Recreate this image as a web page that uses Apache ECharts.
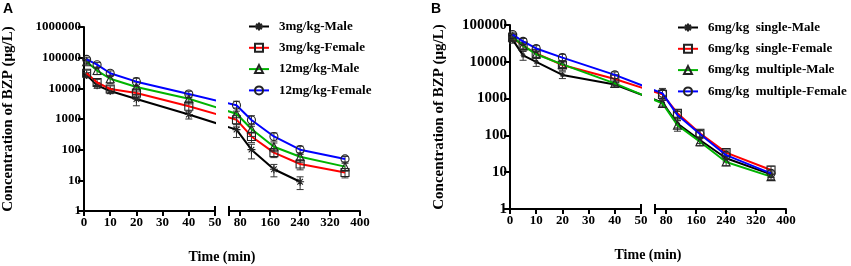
<!DOCTYPE html>
<html>
<head>
<meta charset="utf-8">
<script src="https://cdn.jsdelivr.net/npm/echarts@6/dist/echarts.min.js"></script>
<style>
html, body { margin: 0; padding: 0; background: #fff; }
#main { width: 851px; height: 266px; }
</style>
</head>
<body>
<div id="main"></div>
<script>
// sampling times (min), same for both panels
const times = [1, 5, 10, 20, 40, 70, 110, 170, 240, 360];
const xTicksSeg2 = [80, 160, 240, 320, 400];

// panel A: means and SD (ug/L)
const namesA = ['3mg/kg-Male', '3mg/kg-Female', '12mg/kg-Male', '12mg/kg-Female'];
const meanA = [
    [27000, 12500, 8200, 4500, 1400, 450, 100, 23, 9, null],
    [31000, 15500, 9500, 7000, 2600, 950, 270, 80, 34, 18],
    [74000, 38000, 20500, 11000, 4600, 1480, 470, 125, 59, 28],
    [88000, 59000, 31000, 16500, 6500, 2800, 930, 270, 100, 50]
];
const sdA = [
    [5000, 2500, 1500, 1800, 400, 200, 50, 10, 4, null],
    [8000, 4000, 2500, 2500, 1200, 400, 100, 25, 12, 6],
    [15000, 10000, 6000, 5000, 1500, 800, 200, 40, 20, 8],
    [15000, 10000, 6000, 5000, 1500, 1000, 350, 80, 30, 10]
];

// panel B
const namesB = ['6mg/kg  single-Male', '6mg/kg  single-Female', '6mg/kg  multiple-Male', '6mg/kg  multiple-Female'];
const meanB = [
    [40000, 15000, 10000, 4400, 2400, 780, 210, 75, 24, 8.7],
    [45000, 27000, 17000, 8200, 3400, 1300, 400, 114, 34, 11.5],
    [48000, 27500, 16000, 8500, 2600, 740, 190, 67, 19, 7.6],
    [55000, 36000, 23000, 13000, 4400, 1390, 357, 109, 29, 9.3]
];
const sdB = [
    [8000, 4000, 2500, 900, 400, 150, 50, 15, 5, 1.5],
    [9000, 6000, 4000, 2500, 1000, 400, 100, 25, 6, 3],
    [7000, 5000, 3500, 1500, 400, 150, 60, 15, 4, 1.2],
    [9000, 7000, 4500, 3000, 900, 500, 100, 25, 6, 2]
];

const colors = ['#000000', '#ff0000', '#00b400', '#0000ff'];
const star = 'path://M5,0L5,10M0,5L10,5M1.5,1.5L8.5,8.5M8.5,1.5L1.5,8.5';
const symbols = [star, 'rect', 'triangle', 'circle'];
const symSizeA = [8, 8, 8, 8];
const symSizeB = [5, 8, 8, 8];

const serif = 'Liberation Serif';
const lblStyle = {fontFamily: serif, fontWeight: 'bold', fontSize: 13, color: '#000'};

let chart = echarts.init(document.getElementById('main'));

// x ranges of the two segments of the broken axis
const segs = [[0, 50], [50, 400]];
// last point of segment 1 and first of segment 2
const lastIn1 = 4, firstIn2 = 5;

let grids = [
    {left: 84, top: 27, width: 131, height: 184},
    {left: 229, top: 27, width: 131, height: 184},
    {left: 510, top: 25, width: 131, height: 184},
    {left: 655, top: 25, width: 131, height: 184}
];

let xAxes = [];
let yAxes = [];
grids.forEach((g, i) => {
    let s = i % 2;
    let ax = {
        type: 'value', gridIndex: i, min: segs[s][0], max: segs[s][1],
        axisLine: {lineStyle: {color: '#000', width: 2}},
        axisTick: {length: 5, lineStyle: {color: '#000', width: 2}},
        axisLabel: Object.assign({margin: 5}, lblStyle),
        splitLine: {show: false}
    };
    if (s === 0) {
        ax.interval = 10;
    } else {
        ax.axisTick.customValues = xTicksSeg2;
        ax.axisLabel.customValues = xTicksSeg2;
    }
    xAxes.push(ax);

    let panelB = i >= 2;
    yAxes.push({
        type: 'log', gridIndex: i, min: 1, max: panelB ? 100000 : 1000000,
        show: s === 0,
        name: 'Concentration of BZP (μg/L)',
        nameLocation: 'middle',
        nameGap: panelB ? 63 : 68,
        nameTextStyle: {fontFamily: serif, fontWeight: 'bold', fontSize: 15, color: '#000'},
        axisLine: {show: true, lineStyle: {color: '#000', width: 2}},
        axisTick: {length: 6, lineStyle: {color: '#000', width: 2}},
        axisLabel: Object.assign({}, lblStyle, {
            margin: 3, fontSize: panelB ? 15 : 13,
            formatter: v => String(Math.round(v))
        }),
        splitLine: {show: false}
    });
});

let series = [];
let lineInfo = [];
function addPanel(names, means, sds, gridBase, symSize) {
    for (let s = 0; s < 2; s++) {
        let gi = gridBase + s;
        names.forEach((nm, k) => {
            lineInfo.push({idx: series.length, means: means[k], grid: gi, seg: s, base: gridBase});
            series.push({
                type: 'line', name: nm, xAxisIndex: gi, yAxisIndex: gi,
                data: times.map((t, j) => [t, means[k][j]]),
                clip: true,
                symbol: symbols[k], symbolSize: symSize[k],
                showAllSymbol: true,
                lineStyle: {color: colors[k], width: 2},
                itemStyle: {color: 'rgba(0,0,0,0)', borderColor: '#222', borderWidth: 1.1},
                z: 3 + k
            });
        });
        names.forEach((nm, k) => {
            let bars = [];
            times.forEach((t, j) => {
                if (t < segs[s][0] || t > segs[s][1] || means[k][j] == null) return;
                let m = means[k][j], d = sds[k][j];
                bars.push([t, m - d, m + d]);
            });
            series.push({
                type: 'custom', name: nm + ' SD', xAxisIndex: gi, yAxisIndex: gi,
                data: bars, z: 3 + k,
                encode: {x: 0, y: [1, 2]},
                renderItem: (params, api) => {
                    let top = api.coord([api.value(0), api.value(2)]);
                    let bot = api.coord([api.value(0), api.value(1)]);
                    let w = 3.5;
                    let st = {stroke: '#333', lineWidth: 1};
                    return {type: 'group', children: [
                        {type: 'line', shape: {x1: top[0], y1: top[1], x2: bot[0], y2: bot[1]}, style: st},
                        {type: 'line', shape: {x1: top[0] - w, y1: top[1], x2: top[0] + w, y2: top[1]}, style: st},
                        {type: 'line', shape: {x1: bot[0] - w, y1: bot[1], x2: bot[0] + w, y2: bot[1]}, style: st}
                    ]};
                }
            });
        });
    }
}
addPanel(namesA, meanA, sdA, 0, symSizeA);
addPanel(namesB, meanB, sdB, 2, symSizeB);

const legendText = Object.assign({padding: [0, 0, 0, 5]}, lblStyle);

const option = {
    animation: false,
    backgroundColor: '#fff',
    grid: grids,
    xAxis: xAxes,
    yAxis: yAxes,
    legend: [
        {orient: 'vertical', left: 248, top: 20, padding: 0, itemWidth: 20, itemHeight: 10, itemGap: 8.3,
         data: namesA, textStyle: legendText},
        {orient: 'vertical', left: 677, top: 21, padding: 0, itemWidth: 20, itemHeight: 10, itemGap: 8.3,
         data: namesB, textStyle: legendText}
    ],
    series: series
};
chart.setOption(option);

// the line across the axis break is straight on screen, from the last point
// of segment 1 to the first point of segment 2; map each end into the other
// segment's axis so every part gets clipped by its own grid
lineInfo.forEach(info => {
    let g1 = info.base, g2 = info.base + 1;
    let d = times.map((t, j) => [t, info.means[j]]);
    if (info.seg === 0) {
        let px = chart.convertToPixel({xAxisIndex: g2}, times[firstIn2]);
        d = d.slice(0, lastIn1 + 1);
        d.push([chart.convertFromPixel({xAxisIndex: g1}, px), info.means[firstIn2]]);
    } else {
        let px = chart.convertToPixel({xAxisIndex: g1}, times[lastIn1]);
        d = d.slice(firstIn2);
        d.unshift([chart.convertFromPixel({xAxisIndex: g2}, px), info.means[lastIn1]]);
    }
    series[info.idx].data = d;
});

// panel letters, axis titles and break marks of the broken x axes
let graphics = [
    {type: 'text', x: 3, y: 2, style: {text: 'A', font: 'bold 14px "Liberation Sans"', fill: '#000'}},
    {type: 'text', x: 431, y: 2, style: {text: 'B', font: 'bold 14px "Liberation Sans"', fill: '#000'}}
];
[[0, 1], [2, 3]].forEach(pair => {
    let left = chart.convertToPixel({xAxisIndex: pair[0]}, 0);
    let right = chart.convertToPixel({xAxisIndex: pair[1]}, 400);
    let yb = chart.convertToPixel({yAxisIndex: pair[0]}, 1);
    graphics.push({type: 'text', x: (left + right) / 2, y: yb + 39,
        style: {text: 'Time (min)', font: 'bold 14px "Liberation Serif"', fill: '#000', align: 'center'}});
    let xa = chart.convertToPixel({xAxisIndex: pair[0]}, 50);
    let xb = chart.convertToPixel({xAxisIndex: pair[1]}, 50);
    [xa, xb].forEach(x => {
        graphics.push({type: 'line', shape: {x1: x, y1: yb - 5, x2: x, y2: yb + 5},
            style: {stroke: '#000', lineWidth: 2}});
    });
});
chart.setOption({series: series, graphic: graphics});
</script>
</body>
</html>
